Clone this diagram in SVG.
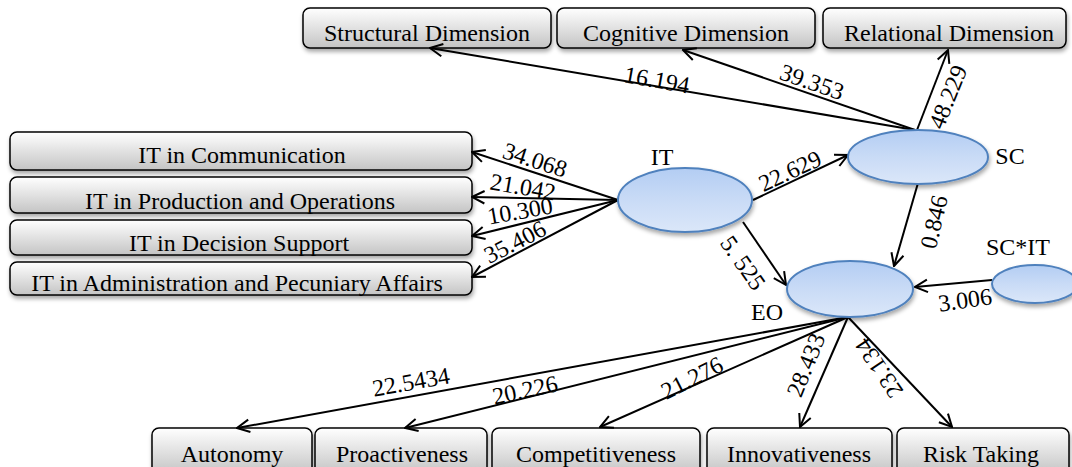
<svg xmlns="http://www.w3.org/2000/svg" width="1072" height="467" viewBox="0 0 1072 467">
<defs>
<linearGradient id="boxg" x1="0" y1="0" x2="0" y2="1">
<stop offset="0" stop-color="#ffffff"/>
<stop offset="1" stop-color="#c4c4c4"/>
</linearGradient>
<linearGradient id="ellg" x1="0" y1="0" x2="0" y2="1">
<stop offset="0" stop-color="#b3cdf3"/>
<stop offset="0.5" stop-color="#c9dbf6"/>
<stop offset="1" stop-color="#dbe7f9"/>
</linearGradient>
<filter id="sh" x="-10%" y="-20%" width="120%" height="160%">
<feDropShadow dx="1" dy="3" stdDeviation="2" flood-color="#000" flood-opacity="0.35"/>
</filter>
<marker id="arr" viewBox="0 0 12 12" refX="11" refY="6" markerWidth="15" markerHeight="15" markerUnits="userSpaceOnUse" orient="auto">
<path d="M1,1 L11,6 L1,11" fill="none" stroke="#000" stroke-width="1.6"/>
</marker>
</defs>
<style>
.box{fill:url(#boxg);stroke:#000;stroke-width:1.5;filter:url(#sh)}
.ell{fill:url(#ellg);stroke:#4f81bd;stroke-width:2;filter:url(#sh)}
.t{font-family:"Liberation Serif","Times New Roman",serif;font-size:24px;fill:#000;text-anchor:middle}
.n{font-family:"Liberation Serif","Times New Roman",serif;font-size:24px;fill:#000;text-anchor:middle;dominant-baseline:central}
.c{fill:none;stroke:#000;stroke-width:2;marker-end:url(#arr)}
</style>

<g id="structural"><rect class="box" x="303" y="8" width="248" height="40" rx="7"/><text class="t" x="427" y="41">Structural Dimension</text></g>
<g id="cognitive"><rect class="box" x="557" y="8" width="258" height="40" rx="7"/><text class="t" x="686" y="41">Cognitive Dimension</text></g>
<g id="relational"><rect class="box" x="823" y="8" width="243" height="40" rx="7"/><text class="t" x="949" y="41">Relational Dimension</text></g>

<g id="itcomm"><rect class="box" x="10" y="132" width="462" height="38" rx="7"/><text class="t" x="242" y="163">IT in Communication</text></g>
<g id="itprod"><rect class="box" x="10" y="177" width="462" height="36" rx="7"/><text class="t" x="240" y="209">IT in Production and Operations</text></g>
<g id="itdec"><rect class="box" x="10" y="220" width="462" height="35" rx="7"/><text class="t" x="239" y="251">IT in Decision Support</text></g>
<g id="itadm"><rect class="box" x="10" y="262" width="462" height="33" rx="7"/><text class="t" x="237" y="291">IT in Administration and Pecuniary Affairs</text></g>

<g id="autonomy"><rect class="box" x="152" y="428" width="160" height="46" rx="7"/><text class="t" x="232" y="462">Autonomy</text></g>
<g id="proactiveness"><rect class="box" x="315" y="428" width="172" height="46" rx="7"/><text class="t" x="402" y="462">Proactiveness</text></g>
<g id="competitiveness"><rect class="box" x="492" y="428" width="208" height="46" rx="7"/><text class="t" x="596" y="462">Competitiveness</text></g>
<g id="innovativeness"><rect class="box" x="707" y="428" width="185" height="46" rx="7"/><text class="t" x="799" y="462">Innovativeness</text></g>
<g id="risktaking"><rect class="box" x="897" y="428" width="172" height="46" rx="7"/><text class="t" x="981" y="462">Risk Taking</text></g>

<g id="connectors">
<path class="c" d="M915,130 L430,48"/>
<path class="c" d="M915,130 L683,50"/>
<path class="c" d="M917,130 L948,50"/>
<path class="c" d="M618,200 L472,152"/>
<path class="c" d="M618,200 L472,197"/>
<path class="c" d="M618,200 L472,236"/>
<path class="c" d="M618,200 L472,277"/>
<path class="c" d="M753,200 L848,155"/>
<path class="c" d="M743,222 L786,285"/>
<path class="c" d="M918,183 L894,266"/>
<path class="c" d="M992,280 L915,287"/>
<path class="c" d="M848,317 L237,428"/>
<path class="c" d="M848,317 L405,428"/>
<path class="c" d="M848,317 L600,427"/>
<path class="c" d="M848,317 L800,427"/>
<path class="c" d="M848,317 L952,427"/>
</g>

<g id="it"><ellipse class="ell" cx="685" cy="200" rx="67" ry="32"/><text class="t" x="662" y="165">IT</text></g>
<g id="sc"><ellipse class="ell" cx="918" cy="157" rx="70" ry="27"/><text class="t" x="1010" y="164">SC</text></g>
<g id="eo"><ellipse class="ell" cx="850" cy="289" rx="63" ry="28"/><text class="t" x="767" y="320">EO</text></g>
<g id="scit"><ellipse class="ell" cx="1035" cy="284" rx="43" ry="19"/><text class="t" x="1018" y="255">SC*IT</text></g>

<g id="labels">
<text class="n" transform="translate(657,80) rotate(10)">16.194</text>
<text class="n" transform="translate(812,82) rotate(19)">39.353</text>
<text class="n" transform="translate(948,97) rotate(-68)">48.229</text>
<text class="n" transform="translate(535,160) rotate(18)">34.068</text>
<text class="n" transform="translate(523,187) rotate(10)">21.042</text>
<text class="n" transform="translate(520,211) rotate(-10)">10.300</text>
<text class="n" transform="translate(515,242) rotate(-27)">35.406</text>
<text class="n" transform="translate(790,171) rotate(-25)">22.629</text>
<text class="n" transform="translate(743,263) rotate(55)">5. 525</text>
<text class="n" transform="translate(934,222) rotate(-77)">0.846</text>
<text class="n" transform="translate(965,300) rotate(-8)">3.006</text>
<text class="n" transform="translate(411,382) rotate(-10)">22.5434</text>
<text class="n" transform="translate(525,390) rotate(-12)">20.226</text>
<text class="n" transform="translate(692,378) rotate(-27)">21.276</text>
<text class="n" transform="translate(806,365) rotate(-68)">28.433</text>
<text class="n" transform="translate(879,368) rotate(-124)">23.134</text>
</g>
</svg>
